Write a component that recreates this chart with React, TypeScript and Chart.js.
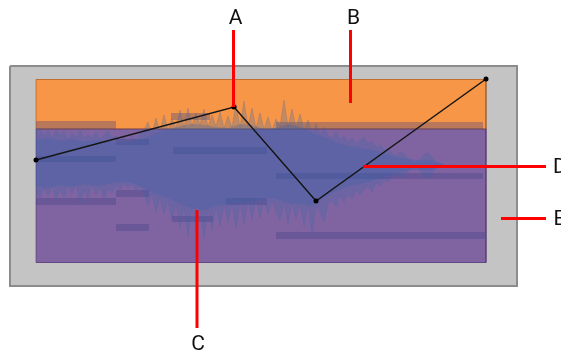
import { useEffect, useRef } from "react";
import { Chart, registerables } from "chart.js";

Chart.register(...registerables);

// Diagram coordinate space (units)
const spaceX = [0, 561];
const spaceY = [0, 353];

// Clip frame and lanes
const frameX = [10, 517];
const frameY = [66, 286];
const laneX = [36, 486];
const upperLaneY = [79, 129];
const lowerLaneY = [129, 263];

// MIDI-like note blocks: [start, end, top, bottom]
const notes: number[][] = [
  [36, 116, 121, 129],
  [36, 116, 156, 162],
  [36, 116, 198, 205],
  [116, 149, 139, 145],
  [116, 149, 190, 197],
  [116, 149, 224, 231],
  [171, 210, 113, 120],
  [173, 267, 147, 154],
  [172, 213, 216, 222],
  [226, 267, 198, 205],
  [276, 483, 122, 129],
  [276, 483, 173, 179],
  [276, 485, 232, 239],
];

// Audio waveform peaks (sampled every 4 units from x = 36)
const waveStart = 36;
const waveStep = 4;
const waveTop = [
  132, 128, 136, 130, 138, 129, 135, 131, 140, 133, 137, 130, 139, 134, 138, 132, 140, 135, 131, 138,
  136, 141, 137, 143, 136, 140, 134, 130, 122, 134, 118, 132, 115, 130, 119, 128, 110, 127, 108, 126,
  113, 125, 109, 127, 115, 126, 112, 128, 116, 127, 104, 128, 101, 126, 108, 128, 113, 129, 117, 130,
  119, 126, 100, 127, 109, 128, 114, 130, 120, 133, 124, 135, 127, 136, 138, 132, 140, 136, 142, 138,
  144, 140, 137, 144, 141, 148, 145, 150, 148, 153, 156, 152, 154, 158, 162, 163, 160, 155, 153, 157,
  163, 164, 166, 167, 168,
];
const waveBottom = [
  192, 198, 188, 196, 185, 200, 190, 197, 186, 194, 183, 203, 190, 198, 184, 195, 187, 199, 189, 193,
  186, 190, 183, 188, 184, 191, 186, 195, 205, 194, 212, 198, 214, 200, 220, 204, 228, 206, 236, 208,
  232, 207, 238, 208, 230, 206, 226, 204, 222, 203, 228, 202, 224, 200, 220, 199, 218, 198, 214, 200,
  212, 220, 202, 224, 203, 219, 204, 226, 205, 236, 206, 212, 222, 204, 200, 207, 196, 202, 194, 199,
  190, 195, 190, 186, 192, 183, 186, 180, 182, 177, 174, 178, 176, 171, 167, 166, 170, 177, 179, 174,
  167, 166, 165, 165, 165,
];

// Waveform dense core (sampled every 12 units from x = 36)
const coreStep = 12;
const coreTop = [
  140, 138, 141, 139, 142, 140, 141, 143, 142, 138, 133, 130, 126, 124, 125, 127, 128, 124, 125, 129,
  128, 124, 127, 133, 137, 142, 146, 148, 150, 153, 157, 159, 160, 160, 164,
];
const coreBottom = [
  186, 188, 185, 187, 184, 186, 184, 182, 183, 188, 194, 198, 204, 208, 210, 206, 204, 203, 202, 198,
  199, 203, 204, 206, 198, 191, 186, 184, 181, 177, 173, 170, 170, 170, 166,
];

// Volume envelope nodes
const envelopeX = [36, 234, 316, 486];
const envelopeY = [160, 107, 201, 79];

// Callouts
const calloutLabels = ["A", "B", "C", "D", "E"];
const calloutLines: number[][] = [
  [233.5, 30, 233.5, 107],
  [350.5, 30, 350.5, 103],
  [197, 210, 197, 328],
  [363, 166.5, 546, 166.5],
  [501, 218.5, 546, 218.5],
];
const calloutTextX = [235.5, 353.5, 198, 553, 553.5];
const calloutTextY = [24, 24, 349.5, 172.5, 224.5];
const calloutAlign = ["center", "center", "center", "left", "left"];

function rect(x1: number, x2: number, y1: number, y2: number, color: string) {
  return {
    data: [
      { x: x1, y: y1 },
      { x: x2, y: y1 },
    ],
    fill: { value: y2 },
    backgroundColor: color,
    borderColor: "transparent",
    borderWidth: 0,
    pointRadius: 0,
  };
}

function outline(x1: number, x2: number, y1: number, y2: number, color: string, width: number) {
  return {
    data: [
      { x: x1, y: y1 },
      { x: x2, y: y1 },
      { x: x2, y: y2 },
      { x: x1, y: y2 },
      { x: x1, y: y1 },
    ],
    fill: false,
    borderColor: color,
    borderWidth: width,
    pointRadius: 0,
  };
}

const labelPlugin = {
  id: "calloutLabels",
  afterDatasetsDraw(chart: any) {
    const { ctx, scales } = chart;
    ctx.save();
    ctx.fillStyle = "#111111";
    ctx.font = "21px Roboto";
    ctx.textBaseline = "alphabetic";
    calloutLabels.forEach((t, i) => {
      ctx.textAlign = calloutAlign[i];
      ctx.fillText(t, scales.x.getPixelForValue(calloutTextX[i]), scales.y.getPixelForValue(calloutTextY[i]));
    });
    ctx.restore();
  },
};

export default function App() {
  const ref = useRef<HTMLCanvasElement | null>(null);

  useEffect(() => {
    document.body.style.margin = "0";
    const canvas = ref.current;
    if (!canvas) return;

    const layers: any[] = [];
    layers.push(rect(frameX[0], frameX[1], frameY[0], frameY[1], "#c4c4c4"));
    layers.push(outline(frameX[0], frameX[1], frameY[0], frameY[1], "#8c8c8c", 2));
    layers.push(rect(laneX[0], laneX[1], upperLaneY[0], upperLaneY[1], "#f79646"));
    layers.push(rect(laneX[0], laneX[1], lowerLaneY[0], lowerLaneY[1], "#8064a2"));
    layers.push(outline(laneX[0], laneX[1], upperLaneY[0] + 0.5, upperLaneY[1], "rgba(150,80,30,0.55)", 1));
    layers.push(outline(laneX[0], laneX[1], lowerLaneY[0], lowerLaneY[1] - 0.5, "rgba(80,50,110,0.6)", 1));
    notes.forEach((n) => layers.push(rect(n[0], n[1], n[2], n[3], "rgba(60,60,130,0.33)")));

    const wx = (i: number) => waveStart + i * waveStep;
    const cx = (i: number) => waveStart + i * coreStep;
    layers.push({
      data: waveTop.map((v, i) => ({ x: wx(i), y: v })),
      fill: false,
      borderColor: "rgba(70,100,165,0.22)",
      borderWidth: 1,
      pointRadius: 0,
    });
    layers.push({
      data: waveBottom.map((v, i) => ({ x: wx(i), y: v })),
      fill: "-1",
      backgroundColor: "rgba(55,100,170,0.26)",
      borderColor: "rgba(70,100,165,0.22)",
      borderWidth: 1,
      pointRadius: 0,
    });
    layers.push({
      data: coreTop.map((v, i) => ({ x: cx(i), y: v })),
      fill: false,
      borderColor: "transparent",
      borderWidth: 0,
      pointRadius: 0,
    });
    layers.push({
      data: coreBottom.map((v, i) => ({ x: cx(i), y: v })),
      fill: "-1",
      backgroundColor: "rgba(55,100,165,0.3)",
      borderColor: "transparent",
      borderWidth: 0,
      pointRadius: 0,
    });

    layers.push({
      data: envelopeX.map((x, i) => ({ x, y: envelopeY[i] })),
      fill: false,
      borderColor: "#151515",
      borderWidth: 1.5,
      pointRadius: 2.5,
      pointBackgroundColor: "#000000",
      pointBorderColor: "#000000",
      pointBorderWidth: 0,
    });

    calloutLines.forEach((l) =>
      layers.push({
        data: [
          { x: l[0], y: l[1] },
          { x: l[2], y: l[3] },
        ],
        fill: false,
        borderColor: "#ff0000",
        borderWidth: 3,
        pointRadius: 0,
      })
    );

    const n = layers.length;
    layers.forEach((d, i) => {
      d.order = n - i;
      d.tension = 0;
    });

    const chart = new Chart(canvas, {
      type: "line",
      data: { datasets: layers },
      options: {
        animation: false,
        responsive: false,
        maintainAspectRatio: false,
        devicePixelRatio: 1,
        layout: { padding: 0, autoPadding: false },
        events: [],
        scales: {
          x: { type: "linear", min: spaceX[0], max: spaceX[1], display: false },
          y: { type: "linear", min: spaceY[0], max: spaceY[1], reverse: true, display: false },
        },
        plugins: {
          legend: { display: false },
          tooltip: { enabled: false },
          title: { display: false },
        },
      } as any,
      plugins: [labelPlugin],
    });
    return () => chart.destroy();
  }, []);

  return <canvas ref={ref} width={561} height={353} style={{ display: "block" }} />;
}
